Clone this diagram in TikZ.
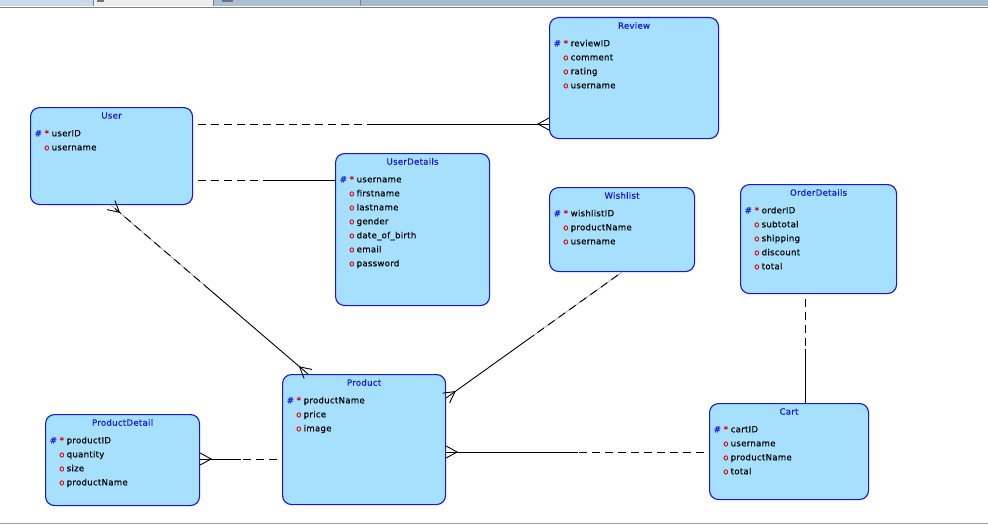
\documentclass[tikz,border=0pt]{standalone}
\usepackage{fontspec}
\setmainfont{DejaVu Sans}
\usetikzlibrary{calc}

\definecolor{entfill}{RGB}{166,224,252}
\definecolor{entline}{RGB}{20,20,235}
\definecolor{keyred}{RGB}{230,0,0}
\definecolor{tabA}{RGB}{200,217,236}
\definecolor{tabB}{RGB}{238,238,238}
\definecolor{tabC}{RGB}{172,192,214}
\definecolor{tabD}{RGB}{166,186,208}

\newfontfamily\erfont[FakeBold=0.25, LetterSpace=3]{DejaVu Sans}

\tikzset{
  entity/.style={shape=rectangle, draw=entline, fill=entfill, line width=1.1pt,
                 rounded corners=9pt, inner sep=0pt},
  etitle/.style={text=entline, font=\erfont\fontsize{8.6}{10}\selectfont, inner sep=0pt},
  attr/.style={font=\erfont\fontsize{8.6}{10}\selectfont, inner sep=0pt,
               text height=6.4pt, text depth=1.8pt, anchor=west},
  rel/.style={line width=0.9pt, black},
  optional/.style={rel, dash pattern=on 8pt off 5pt, dash phase=8pt},
  fadedash/.style={optional, preaction={draw=black!30, solid, line width=0.9pt}},
}

% entity box: name, x, y, width, height, title, primary key, other attributes
\newcommand\erbox[8]{%
  \node[entity, minimum width=#4pt, minimum height=#5pt, anchor=north west] (#1) at (#2,#3) {};
  \node[etitle] (#1-title) at ($(#1.north)+(0,8.5)$) {#6};
  \node[attr, text=entline] (#1-hash) at ($(#1.north west)+(4.5,27)$) {\#};
  \node[attr, text=keyred] (#1-star) at ($(#1.north west)+(14.5,27)$) {*};
  \node[attr] (#1-pk) at ($(#1.north west)+(21.5,27)$) {#7};
  \foreach \a [count=\i] in {#8} {
    \node[attr, text=keyred] (#1-o\i) at ($(#1.north west)+(14,27+14*\i)$) {o};
    \node[attr] (#1-a\i) at ($(#1.north west)+(21.5,27+14*\i)$) {\a};
  }%
}

% crow's foot at an edge point #1, opening toward #2
\newcommand\crowfoot[2]{%
  \draw[rel] ($(#1)!6pt!90:(#2)$) -- ($(#1)!11pt!(#2)$) -- ($(#1)!6pt!-90:(#2)$);%
}

\begin{document}
\begin{tikzpicture}[x=1pt, y=-1pt]
\useasboundingbox (0,0) rectangle (988,527);
\fill[white] (0,0) rectangle (988,527);

% window tab strip
\fill[tabA] (0,0) rectangle (93,6);
\fill[tabB] (93,0) rectangle (213,6);
\fill[tabC] (213,0) rectangle (360,6);
\fill[tabD] (360,0) rectangle (988,6);
\fill[black!55] (97,0) rectangle (104,2);
\fill[black!55] (222,0) rectangle (233,2);
\draw[black!50, line width=0.6pt] (93,0) -- (93,6) (213,0) -- (213,6) (360,0) -- (360,6);
\draw[black!50, line width=1.5pt] (0,7.5) -- (988,7.5);
\draw[black!40, line width=1pt] (0,523.5) -- (988,523.5);

% entities
\erbox{user}{30}{107}{162}{97}{User}{userID}{username}
\erbox{review}{549}{17}{169}{121}{Review}{reviewID}{comment,rating,username}
\erbox{userdetails}{335}{153}{154}{152}{UserDetails}{username}{firstname,lastname,gender,date\_of\_birth,email,password}
\erbox{wishlist}{549}{187}{145}{84}{Wishlist}{wishlistID}{productName,username}
\erbox{orderdetails}{740}{184}{156}{109}{OrderDetails}{orderID}{subtotal,shipping,discount,total}
\erbox{product}{282}{374}{163}{130}{Product}{productName}{price,image}
\erbox{productdetail}{45}{414}{154}{91}{ProductDetail}{productID}{quantity,size,productName}
\erbox{cart}{709}{403}{159}{96}{Cart}{cartID}{username,productName,total}

% connector end points
\coordinate (ur-a) at ($(user.north east)+(0,17)$);
\coordinate (ur-b) at ($(review.north west)+(0,107)$);
\coordinate (ur-m) at ($(ur-a)!0.5!(ur-b)$);
\coordinate (uu-a) at ($(user.north east)+(0,73)$);
\coordinate (uu-b) at ($(userdetails.north west)+(0,27)$);
\coordinate (uu-m) at ($(uu-a)!0.5!(uu-b)$);
\coordinate (up-a) at ($(user.south west)+(81,0)$);
\coordinate (up-b) at ($(product.north west)+(26,0)$);
\coordinate (up-m) at ($(up-a)!0.5!(up-b)$);
\coordinate (wp-a) at ($(wishlist.south west)+(73,0)$);
\coordinate (wp-b) at ($(product.north east)+(0,24)$);
\coordinate (wp-m) at ($(wp-a)!0.5!(wp-b)$);
\coordinate (pp-a) at ($(productdetail.north east)+(0,45)$);
\coordinate (pp-b) at ($(product.north west)+(0,85)$);
\coordinate (pp-m) at ($(pp-a)!0.5!(pp-b)$);
\coordinate (pc-a) at ($(product.north east)+(0,78)$);
\coordinate (pc-b) at ($(cart.north west)+(0,49)$);
\coordinate (pc-m) at ($(pc-a)!0.5!(pc-b)$);
\coordinate (oc-a) at ($(orderdetails.south west)+(65,0)$);
\coordinate (oc-b) at ($(cart.north west)+(96,0)$);
\coordinate (oc-m) at ($(oc-a)!0.5!(oc-b)$);

% User -- Review
\draw[optional] (ur-a) -- (ur-m);
\draw[rel] (ur-m) -- (ur-b);
\crowfoot{ur-b}{ur-a}

% User -- UserDetails
\draw[optional] (uu-a) -- (uu-m);
\draw[rel] (uu-m) -- (uu-b);

% User -- Product
\draw[fadedash] (up-a) -- (up-m);
\draw[rel] (up-m) -- (up-b);
\crowfoot{up-a}{up-b}
\crowfoot{up-b}{up-a}

% Wishlist -- Product
\draw[fadedash] (wp-a) -- (wp-m);
\draw[rel] (wp-m) -- (wp-b);
\crowfoot{wp-b}{wp-a}

% ProductDetail -- Product
\draw[rel] (pp-a) -- (pp-m);
\draw[optional] (pp-b) -- (pp-m);
\crowfoot{pp-a}{pp-b}

% Product -- Cart
\draw[rel] (pc-a) -- (pc-m);
\draw[optional] (pc-b) -- (pc-m);
\crowfoot{pc-a}{pc-b}

% OrderDetails -- Cart
\draw[optional] (oc-a) -- (oc-m);
\draw[rel] (oc-m) -- (oc-b);
\end{tikzpicture}
\end{document}
